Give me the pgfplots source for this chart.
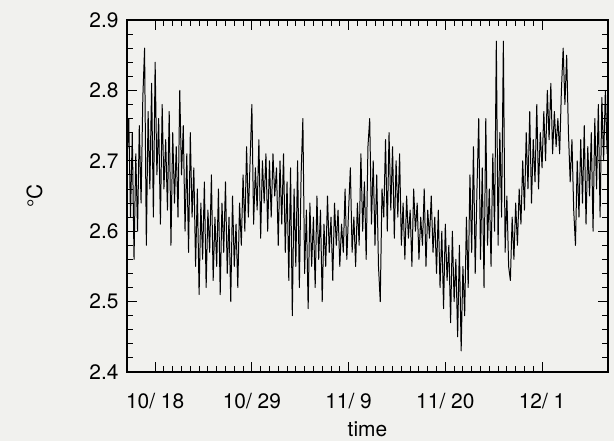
\documentclass[border=0pt]{standalone}
\usepackage{fontspec}
\setmainfont{TeX Gyre Heros}
\usepackage{pgfplots}
\pgfplotsset{compat=1.18}
\usepackage{pgfplotstable}
\definecolor{paper}{RGB}{241,241,238}
\pgfplotstableread{
x y
-3.2 2.70
-3.0 2.76
-2.8 2.62
-2.6 2.74
-2.4 2.56
-2.2 2.71
-2.0 2.60
-1.8 2.75
-1.6 2.64
-1.4 2.79
-1.2 2.86
-1.0 2.58
-0.8 2.77
-0.6 2.66
-0.4 2.81
-0.2 2.62
0.0 2.84
0.2 2.68
0.4 2.76
0.6 2.61
0.8 2.78
1.0 2.66
1.2 2.73
1.4 2.63
1.6 2.77
1.8 2.58
2.0 2.74
2.2 2.64
2.4 2.72
2.6 2.62
2.8 2.80
3.0 2.68
3.2 2.75
3.4 2.60
3.6 2.71
3.8 2.57
4.0 2.74
4.2 2.62
4.4 2.69
4.6 2.55
4.8 2.66
5.0 2.51
5.2 2.64
5.4 2.56
5.6 2.67
5.8 2.52
6.0 2.63
6.2 2.57
6.4 2.68
6.6 2.53
6.8 2.62
7.0 2.55
7.2 2.66
7.4 2.51
7.6 2.64
7.8 2.57
8.0 2.67
8.2 2.54
8.4 2.62
8.6 2.50
8.8 2.65
9.0 2.55
9.2 2.61
9.4 2.52
9.6 2.64
9.8 2.58
10.0 2.68
10.2 2.60
10.4 2.72
10.6 2.62
10.8 2.70
11.0 2.78
11.2 2.61
11.4 2.69
11.6 2.63
11.8 2.73
12.0 2.59
12.2 2.70
12.4 2.64
12.6 2.71
12.8 2.60
13.0 2.70
13.2 2.62
13.4 2.71
13.6 2.65
13.8 2.69
14.0 2.58
14.2 2.70
14.4 2.61
14.6 2.71
14.8 2.57
15.0 2.67
15.2 2.53
15.4 2.69
15.6 2.48
15.8 2.66
16.0 2.55
16.2 2.70
16.4 2.52
16.6 2.68
16.8 2.76
17.0 2.54
17.2 2.63
17.4 2.49
17.6 2.64
17.8 2.55
18.0 2.62
18.2 2.52
18.4 2.65
18.6 2.56
18.8 2.63
19.0 2.50
19.2 2.61
19.4 2.55
19.6 2.65
19.8 2.57
20.0 2.62
20.2 2.53
20.4 2.64
20.6 2.58
20.8 2.63
21.0 2.55
21.2 2.61
21.4 2.57
21.6 2.66
21.8 2.56
22.0 2.63
22.2 2.69
22.4 2.57
22.6 2.62
22.8 2.55
23.0 2.64
23.2 2.58
23.4 2.71
23.6 2.60
23.8 2.67
24.0 2.56
24.2 2.72
24.4 2.76
24.6 2.61
24.8 2.70
25.0 2.58
25.2 2.68
25.4 2.55
25.6 2.50
25.8 2.66
26.0 2.62
26.2 2.73
26.4 2.60
26.6 2.74
26.8 2.63
27.0 2.72
27.2 2.59
27.4 2.70
27.6 2.62
27.8 2.71
28.0 2.58
28.2 2.64
28.4 2.56
28.6 2.65
28.8 2.59
29.0 2.63
29.2 2.55
29.4 2.66
29.6 2.60
29.8 2.64
30.0 2.56
30.2 2.62
30.4 2.58
30.6 2.66
30.8 2.55
31.0 2.63
31.2 2.59
31.4 2.65
31.6 2.57
31.8 2.62
32.0 2.54
32.2 2.63
32.4 2.52
32.6 2.60
32.8 2.49
33.0 2.61
33.2 2.53
33.4 2.58
33.6 2.47
33.8 2.60
34.0 2.50
34.2 2.56
34.4 2.45
34.6 2.58
34.8 2.43
35.0 2.55
35.2 2.48
35.4 2.62
35.6 2.52
35.8 2.68
36.0 2.57
36.2 2.72
36.4 2.54
36.6 2.66
36.8 2.76
37.0 2.56
37.2 2.69
37.4 2.52
37.6 2.76
37.8 2.58
38.0 2.66
38.2 2.55
38.4 2.71
38.6 2.60
38.8 2.87
39.0 2.58
39.2 2.74
39.4 2.62
39.6 2.87
39.8 2.57
40.0 2.65
40.2 2.55
40.4 2.53
40.6 2.62
40.8 2.56
41.0 2.64
41.2 2.58
41.4 2.66
41.6 2.61
41.8 2.70
42.0 2.63
42.2 2.74
42.4 2.66
42.6 2.77
42.8 2.64
43.0 2.73
43.2 2.67
43.4 2.78
43.6 2.66
43.8 2.74
44.0 2.69
44.2 2.77
44.4 2.70
44.6 2.80
44.8 2.73
45.0 2.81
45.2 2.71
45.4 2.77
45.6 2.72
45.8 2.76
46.0 2.71
46.2 2.80
46.4 2.86
46.6 2.78
46.8 2.85
47.0 2.74
47.2 2.67
47.4 2.73
47.6 2.63
47.8 2.58
48.0 2.70
48.2 2.62
48.4 2.73
48.6 2.64
48.8 2.75
49.0 2.61
49.2 2.72
49.4 2.65
49.6 2.74
49.8 2.60
50.0 2.76
50.2 2.66
50.4 2.78
50.6 2.62
50.8 2.79
51.0 2.70
51.2 2.80
51.4 2.71
}\series
\begin{document}
\begin{tikzpicture}
\fill[paper] (-127bp,-69bp) rectangle (487bp,372bp);
\begin{axis}[
  at={(0,0)}, anchor=south west,
  scale only axis, width=481bp, height=352bp,
  xmin=-3.2, xmax=51.5, ymin=2.4, ymax=2.9,
  axis line style={line width=1.3pt},
  tick align=inside, tick pos=both,
  major tick length=10bp, minor tick length=6bp,
  every tick/.style={black, line width=0.9pt},
  xtick={0,11,22,33,44},
  xticklabels={10/ 18,10/ 29,11/ 9,11/ 20,12/ 1},
  minor x tick num=10,
  ytick={2.4,2.5,2.6,2.7,2.8,2.9},
  minor y tick num=4,
  yticklabel style={/pgf/number format/fixed,/pgf/number format/fixed zerofill,/pgf/number format/precision=1},
  /pgf/number format/assume math mode=true,
  tick label style={font=\fontsize{21}{25}\selectfont},
  label style={font=\fontsize{21}{25}\selectfont},
  xticklabel style={yshift=-18bp},
  yticklabel style={xshift=-5bp},
  xlabel={time}, ylabel={°C},
  xlabel style={yshift=-6bp},
  ylabel style={yshift=40bp},
]
\addplot[black, line width=1pt, line join=round] table[x=x,y=y] {\series};
\end{axis}
\pgfresetboundingbox
\path (-127bp,-69bp) rectangle (487bp,372bp);
\end{tikzpicture}
\end{document}
